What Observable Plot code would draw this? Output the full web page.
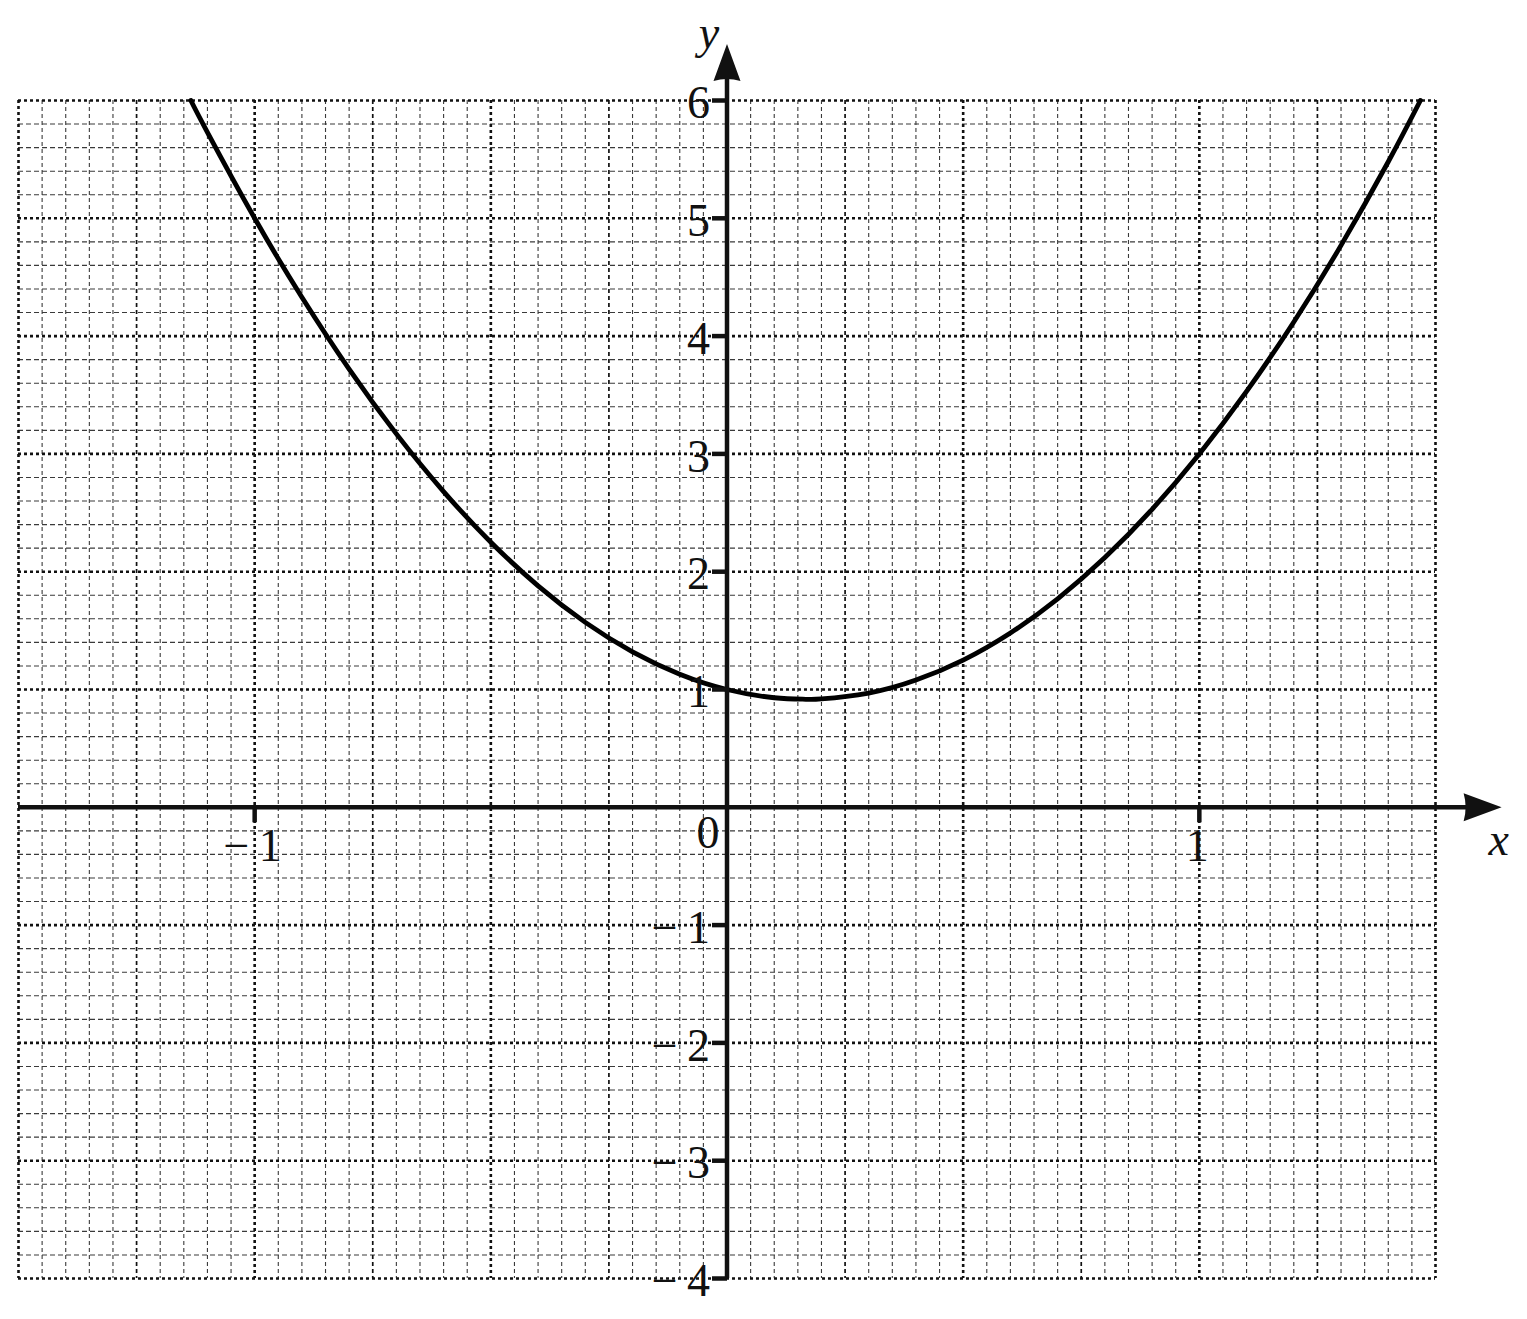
<!DOCTYPE html>
<html>
<head>
<meta charset="utf-8">
<script src="https://cdn.jsdelivr.net/npm/d3@7"></script>
<script src="https://cdn.jsdelivr.net/npm/@observablehq/plot@0.6"></script>
<style>
  html, body { margin: 0; padding: 0; background: #ffffff; }
</style>
</head>
<body>
<div id="chart"></div>
<script>
// ---- Data ----
const curveX = [-1.135, -1.1, -1.0, -0.9, -0.8, -0.7, -0.6, -0.5, -0.4, -0.3, -0.2, -0.1, 0.0, 0.1, 0.167, 0.2, 0.3, 0.4, 0.5, 0.6, 0.7, 0.8, 0.9, 1.0, 1.1, 1.2, 1.3, 1.4, 1.468];
const curveY = [6.0, 5.73, 5.0, 4.33, 3.72, 3.17, 2.68, 2.25, 1.88, 1.57, 1.32, 1.13, 1.0, 0.93, 0.917, 0.92, 0.97, 1.08, 1.25, 1.48, 1.77, 2.12, 2.53, 3.0, 3.53, 4.12, 4.77, 5.48, 6.0];

// axis extents and ticks
const xDomain = [-1.5, 1.5];
const yDomain = [-4, 6];
const xArrowTip = 1.64;
const yArrowTip = 6.48;
const yTicks = [-4, -3, -2, -1, 1, 2, 3, 4, 5, 6];
const yTickLabels = ["\u2212\u20094", "\u2212\u20093", "\u2212\u20092", "\u2212\u20091", "1", "2", "3", "4", "5", "6"];
const xTicks = [-1, 1];
const xTickLabels = ["\u2212\u20091", "1"];
const originLabel = ["0"];
const axisNames = ["x", "y"];

// ---- Derived tables ----
const curve = curveX.map((x, i) => ({x, y: curveY[i]}));

// grid: x every 0.05 (major every 0.5, medium every 0.25), y every 0.2 (major every 1)
const gx = d3.range(-30, 31);
const gy = d3.range(-20, 31);
const vMinor = gx.filter(i => i % 5 !== 0).map(i => i * 0.05);
const vMedium = gx.filter(i => i % 5 === 0 && i % 10 !== 0).map(i => i * 0.05);
const vMajor = gx.filter(i => i % 10 === 0).map(i => i * 0.05);
const hMinor = gy.filter(i => i % 5 !== 0).map(i => i * 0.2);
const hMajor = gy.filter(i => i % 5 === 0).map(i => i * 0.2);

// custom symbols
const arrowUp = { draw(ctx) { ctx.moveTo(0, 0); ctx.lineTo(-13.5, 37); ctx.quadraticCurveTo(0, 33, 13.5, 37); ctx.closePath(); } };
const arrowRight = { draw(ctx) { ctx.moveTo(0, 0); ctx.lineTo(-38, -14); ctx.quadraticCurveTo(-34, 0, -38, 14); ctx.closePath(); } };
const tickLeft = { draw(ctx) { ctx.moveTo(-15, 0); ctx.lineTo(0, 0); } };
const tickDown = { draw(ctx) { ctx.moveTo(0, 0); ctx.lineTo(0, 15); } };

const font = "'Liberation Serif', 'Times New Roman', serif";
const fs = 46;

const chart = Plot.plot({
  width: 1527,
  height: 1319,
  marginLeft: 18,
  marginRight: 92,
  marginTop: 100,
  marginBottom: 41,
  x: {domain: xDomain, axis: null},
  y: {domain: yDomain, axis: null},
  style: {background: "#ffffff", fontFamily: font},
  marks: [
    Plot.ruleX(vMinor, {stroke: "#3a3a3a", strokeWidth: 1.1, strokeDasharray: "4,3"}),
    Plot.ruleY(hMinor, {stroke: "#3a3a3a", strokeWidth: 1.1, strokeDasharray: "5,3"}),
    Plot.ruleX(vMedium, {stroke: "#111", strokeWidth: 1.7, strokeDasharray: "4,3"}),
    Plot.ruleX(vMajor, {stroke: "#111", strokeWidth: 2.6, strokeDasharray: "3,3"}),
    Plot.ruleY(hMajor, {stroke: "#111", strokeWidth: 2.6, strokeDasharray: "3,3"}),
    Plot.line(curve, {x: "x", y: "y", curve: "natural", stroke: "#000", strokeWidth: 4.8}),
    // axes
    Plot.ruleY([0], {x1: xDomain[0], x2: xArrowTip - 0.05, stroke: "#111", strokeWidth: 4.5}),
    Plot.ruleX([0], {y1: yDomain[0], y2: yArrowTip - 0.2, stroke: "#111", strokeWidth: 4.5}),
    Plot.dot([0], {x: () => xArrowTip, y: () => 0, symbol: arrowRight, fill: "#111", stroke: "none"}),
    Plot.dot([0], {x: () => 0, y: () => yArrowTip, symbol: arrowUp, fill: "#111", stroke: "none"}),
    // ticks
    Plot.dot(yTicks, {x: () => 0, y: d => d, symbol: tickLeft, fill: "none", stroke: "#111", strokeWidth: 4.5}),
    Plot.dot(xTicks, {x: d => d, y: () => 0, symbol: tickDown, fill: "none", stroke: "#111", strokeWidth: 4.5}),
    // tick labels
    Plot.text(yTicks, {x: () => 0, y: d => d, text: (d, i) => yTickLabels[i], textAnchor: "end", dx: -17, dy: 3, fontSize: fs, fill: "#111", fontFamily: font}),
    Plot.text(xTicks, {x: d => d, y: () => 0, text: (d, i) => xTickLabels[i], textAnchor: "middle", dx: -2, dy: 39, fontSize: fs, fill: "#111", fontFamily: font}),
    Plot.text(originLabel, {x: () => 0, y: () => 0, text: d => d, textAnchor: "middle", dx: -19, dy: 26, fontSize: fs, fill: "#111", fontFamily: font}),
    // axis names
    Plot.text([axisNames[0]], {x: () => xArrowTip, y: () => 0, text: d => d, textAnchor: "middle", dx: -3, dy: 33, fontSize: fs, fontStyle: "italic", fill: "#111", fontFamily: font}),
    Plot.text([axisNames[1]], {x: () => 0, y: () => yArrowTip, text: d => d, textAnchor: "middle", dx: -18, dy: -11, fontSize: fs, fontStyle: "italic", fill: "#111", fontFamily: font})
  ]
});
document.getElementById("chart").appendChild(chart);
</script>
</body>
</html>
